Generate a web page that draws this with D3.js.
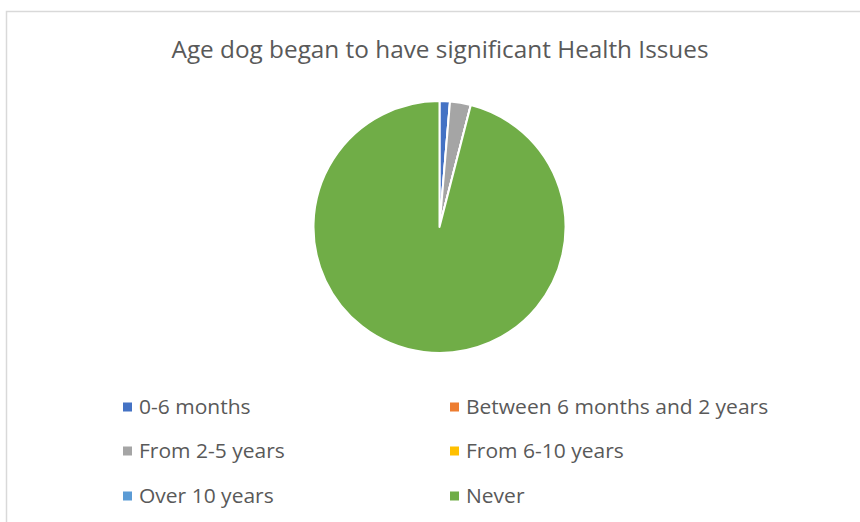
<!DOCTYPE html>
<html><head><meta charset="utf-8">
<script src="https://cdn.jsdelivr.net/npm/d3@7"></script>
<style>html,body{margin:0;padding:0;background:#fff;}svg{display:block;}</style>
</head><body>
<svg id="chart" width="860" height="522"></svg>
<script>
const title = "Age dog began to have significant Health Issues";
const categories = ["0-6 months","Between 6 months and 2 years","From 2-5 years","From 6-10 years","Over 10 years","Never"];
const values = [1, 0, 2, 0, 0, 72];
const colors = ["#4472C4","#ED7D31","#A5A5A5","#FFC000","#5B9BD5","#70AD47"];

const svg = d3.select("#chart");
const W = 860, H = 522;
svg.append("rect").attr("x",6.5).attr("y",11.5).attr("width",W).attr("height",H)
  .attr("fill","#fff").attr("stroke","#d9d9d9").attr("stroke-width",1.5);

const font = "'Open Sans', 'Liberation Sans', sans-serif";
const t = svg.append("text").attr("x",440).attr("y",58).attr("text-anchor","middle")
  .attr("font-family",font).attr("font-size",24).attr("fill","#595959").text(title);
t.attr("textLength",537).attr("lengthAdjust","spacingAndGlyphs");

const cx = 439.5, cy = 227, r = 126;
const pie = d3.pie().sort(null).value(d=>d)(values);
const arc = d3.arc().innerRadius(0).outerRadius(r);
svg.append("g").attr("transform",`translate(${cx},${cy})`)
  .selectAll("path").data(pie).join("path")
  .attr("d",arc).attr("fill",(d,i)=>colors[i])
  .attr("stroke","#fff").attr("stroke-width",2).attr("stroke-linejoin","round");

const colX = [123, 450], rowY = [407, 451, 496];
const lg = svg.append("g");
categories.forEach((c,i)=>{
  const x = colX[i%2], y = rowY[Math.floor(i/2)];
  lg.append("rect").attr("x",x).attr("y",y-4.5).attr("width",9).attr("height",9).attr("fill",colors[i]);
  const tx = lg.append("text").attr("x",x+16).attr("y",y+7)
    .attr("font-family",font).attr("font-size",20).attr("fill","#595959").text(c);
  const w = tx.node().getComputedTextLength();
  tx.attr("textLength", w*1.05).attr("lengthAdjust","spacingAndGlyphs");
});
</script>
</body></html>
